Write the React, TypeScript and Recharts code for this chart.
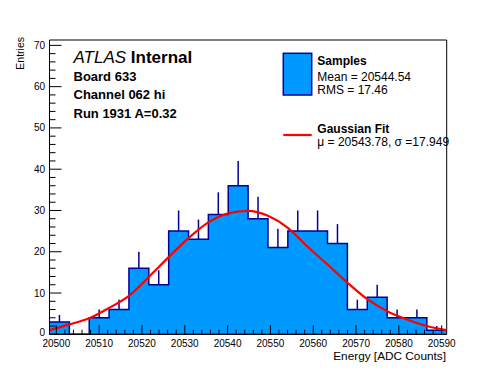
import React from 'react';
import { ComposedChart, Area, Line, Scatter, ErrorBar, XAxis, YAxis, ReferenceArea } from 'recharts';

// Histogram bin edges (ADC counts)
const binEdges = [
  20498.41, 20503.05, 20507.69, 20512.32, 20516.96, 20521.6, 20526.24, 20530.88, 20535.51, 20540.15,
  20544.79, 20549.43, 20554.07, 20558.7, 20563.34, 20567.98, 20572.62, 20577.26, 20581.89, 20586.53, 20591.17,
];
const binCenters = [
  20500.73, 20505.37, 20510.01, 20514.64, 20519.28, 20523.92, 20528.56, 20533.2, 20537.83, 20542.47,
  20547.11, 20551.75, 20556.39, 20561.02, 20565.66, 20570.3, 20574.94, 20579.58, 20584.21, 20588.85,
];
// Entries per bin
const counts = [3, 0, 4, 6, 16, 12, 25, 23, 29, 36, 28, 21, 25, 25, 22, 6, 9, 4, 4, 1];
// Upper error bar lengths
const countErrors = [1.7, 0, 2, 2.4, 4, 3.5, 5, 4.8, 5.4, 6, 5.3, 4.6, 5, 5, 4.7, 2.4, 3, 2, 2, 1];
// Gaussian fit curve, read at the bin edges
const fitValues = [
  1.0, 2.4, 3.9, 6.4, 9.3, 13.9, 18.7, 23.3, 27.1, 29.3, 29.9, 28.7, 25.8, 21.2, 16.9, 12.5, 8.5, 5.6, 3.6, 2.0, 1.0,
];
const xTickLabels = [20500, 20510, 20520, 20530, 20540, 20550, 20560, 20570, 20580, 20590];
const yTickLabels = [0, 10, 20, 30, 40, 50, 60, 70];

const X_MIN = 20498.41;
const X_MAX = 20591.17;
const Y_MAX = 71.3;

const xTicks: number[] = [];
for (let v = 20500; v <= 20590; v += 2) xTicks.push(v);
const yTicks: number[] = [];
for (let v = 0; v <= 70; v += 2) yTicks.push(v);

const histTable = binEdges.map((x, i) => ({
  x,
  count: counts[Math.min(i, counts.length - 1)],
  fit: fitValues[i],
}));
const errTable = binCenters.map((x, i) => ({ x, y: counts[i], err: [0, countErrors[i]] }));

const FONT = '"Liberation Sans", Arial, Helvetica, sans-serif';
const FILL = '#0099ff';
const EDGE = '#000099';

const renderXTick = (props: any) => {
  const { x, y, payload } = props;
  const v = payload.value;
  const major = xTickLabels.includes(v);
  return (
    <g key={`xt-${v}`}>
      <line x1={x} x2={x} y1={y} y2={y - (major ? 9 : 4.5)} stroke="#000" strokeWidth={1} />
      {major && (
        <text x={x} y={y + 12.6} textAnchor="middle" fontSize={10} fontFamily={FONT} fill="#000">
          {v}
        </text>
      )}
    </g>
  );
};

const renderYTick = (props: any) => {
  const { x, y, payload } = props;
  const v = payload.value;
  const major = yTickLabels.includes(v);
  return (
    <g key={`yt-${v}`}>
      <line x1={x} x2={x + (major ? 12 : 6)} y1={y} y2={y} stroke="#000" strokeWidth={1} />
      {major && (
        <text x={x - 4.5} y={y + (v === 0 ? 1.5 : 3.5)} textAnchor="end" fontSize={10} fontFamily={FONT} fill="#000">
          {v}
        </text>
      )}
    </g>
  );
};

const HiddenPoint = () => <g />;

export default function App() {
  return (
    <div style={{ position: 'absolute', left: 0, top: 0, width: 496, height: 372, background: '#fff' }}>
      <ComposedChart
        width={496}
        height={372}
        data={histTable}
        margin={{ top: 40, right: 49.3, bottom: 7.7, left: 19.5 }}
      >
        <XAxis
          dataKey="x"
          type="number"
          domain={[X_MIN, X_MAX]}
          allowDataOverflow
          ticks={xTicks}
          interval={0}
          tick={renderXTick}
          tickLine={false}
          tickSize={0}
          tickMargin={0}
          height={30}
          axisLine={{ stroke: '#000', strokeWidth: 1 }}
        />
        <YAxis
          type="number"
          domain={[0, Y_MAX]}
          allowDataOverflow
          ticks={yTicks}
          interval={0}
          tick={renderYTick}
          tickLine={false}
          tickSize={0}
          tickMargin={0}
          width={30}
          axisLine={{ stroke: '#000', strokeWidth: 1 }}
        />
        <Area
          type="stepAfter"
          dataKey="count"
          fill={FILL}
          fillOpacity={1}
          stroke={EDGE}
          strokeWidth={1.5}
          isAnimationActive={false}
          dot={false}
          activeDot={false}
        />
        <Scatter data={errTable} dataKey="y" shape={HiddenPoint} isAnimationActive={false}>
          <ErrorBar dataKey="err" direction="y" width={0} stroke={EDGE} strokeWidth={1.5} isAnimationActive={false} />
        </Scatter>
        <Line
          type="monotone"
          dataKey="fit"
          stroke="#ff0000"
          strokeWidth={2.2}
          dot={false}
          activeDot={false}
          isAnimationActive={false}
        />
        <ReferenceArea
          x1={X_MIN}
          x2={X_MAX}
          y1={0}
          y2={Y_MAX}
          fill="none"
          fillOpacity={0}
          stroke="#000"
          strokeWidth={1}
          ifOverflow="visible"
        />
      </ComposedChart>
      <svg
        width={496}
        height={372}
        style={{ position: 'absolute', left: 0, top: 0, pointerEvents: 'none' }}
        fontFamily={FONT}
      >
        <text x={73.5} y={62.5} fontSize={17} fill="#000">
          <tspan fontStyle="italic">ATLAS</tspan>
          <tspan fontWeight="bold"> Internal</tspan>
        </text>
        <text x={73.5} y={80.7} fontSize={13} fontWeight="bold" fill="#000">Board 633</text>
        <text x={73.5} y={99.3} fontSize={13} fontWeight="bold" fill="#000">Channel 062 hi</text>
        <text x={73.5} y={117.7} fontSize={13} fontWeight="bold" fill="#000">Run 1931 A=0.32</text>

        <rect x={283.3} y={53.3} width={28.4} height={41.7} fill={FILL} stroke={EDGE} strokeWidth={1.5} />
        <text x={317.3} y={65} fontSize={12} fontWeight="bold" fill="#000">Samples</text>
        <text x={317.3} y={81} fontSize={12} fill="#000">Mean = 20544.54</text>
        <text x={317.3} y={93.5} fontSize={12} fill="#000">RMS = 17.46</text>

        <line x1={283.3} x2={311.7} y1={135} y2={135} stroke="#ff0000" strokeWidth={2.2} />
        <text x={317.3} y={133} fontSize={12} fontWeight="bold" fill="#000">Gaussian Fit</text>
        <text x={317.3} y={146} fontSize={12} fill="#000">μ = 20543.78, σ =17.949</text>

        <text x={24} y={37} fontSize={10.5} textAnchor="end" transform="rotate(-90 24 37)" fill="#000">Entries</text>
        <text x={446} y={360} fontSize={11.8} textAnchor="end" fill="#000">Energy [ADC Counts]</text>
      </svg>
    </div>
  );
}
